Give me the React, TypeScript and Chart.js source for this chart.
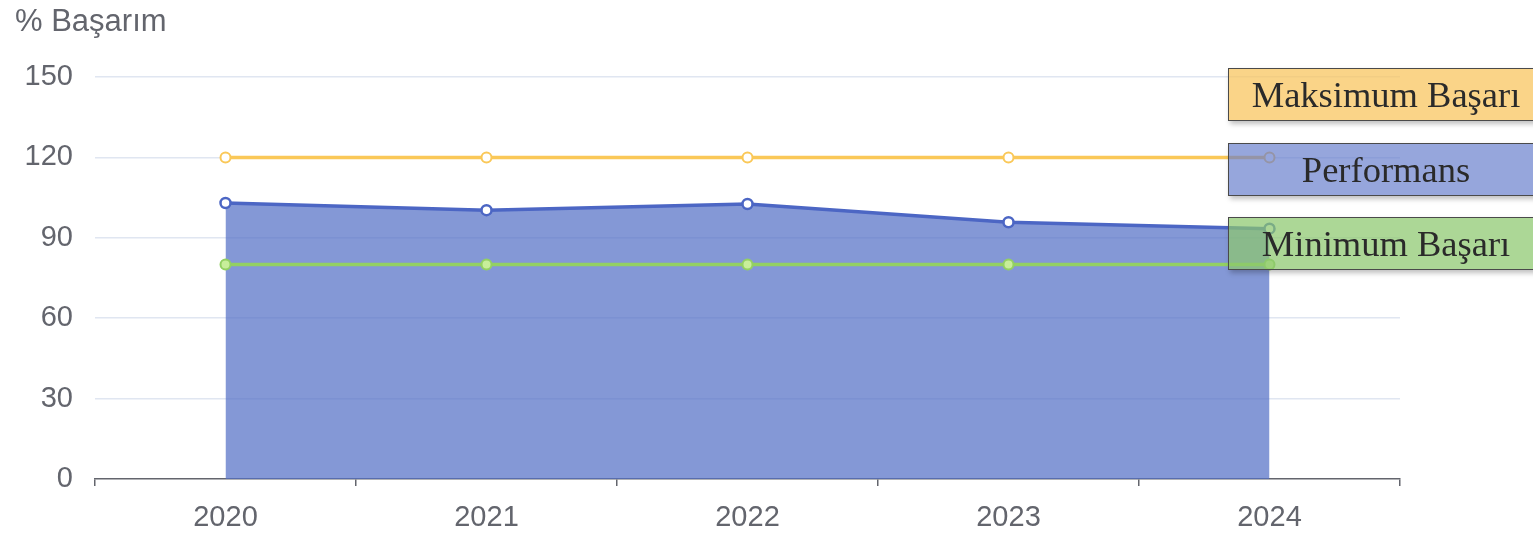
import React, { useEffect, useRef } from "react";
import { Chart, registerables } from "chart.js";

Chart.register(...registerables);

const years = ["2020", "2021", "2022", "2023", "2024"];
const maxValues = [120, 120, 120, 120, 120];
const perfValues = [103, 100.3, 102.6, 95.8, 93.4];
const minValues = [80, 80, 80, 80, 80];
const yMin = 0;
const yMax = 150;
const yStep = 30;
const axisTitle = "% Başarım";
const legendItems = [
  { label: "Maksimum Başarı", bg: "rgba(248, 196, 90, 0.72)" },
  { label: "Performans", bg: "rgba(100, 124, 204, 0.68)" },
  { label: "Minimum Başarı", bg: "rgba(140, 200, 110, 0.72)" },
];

const GREY = "#63656d";

export default function App() {
  const ref = useRef<HTMLCanvasElement | null>(null);

  useEffect(() => {
    if (!ref.current) return;
    const chart = new Chart(ref.current, {
      type: "line",
      data: {
        labels: years,
        datasets: [
          {
            label: "Maksimum Başarı",
            data: maxValues,
            order: 1,
            borderColor: "#fac858",
            borderWidth: 3.5,
            pointRadius: 5,
            pointBorderWidth: 2,
            pointBackgroundColor: "#ffffff",
            pointBorderColor: "#fac858",
            fill: false,
            tension: 0,
          },
          {
            label: "Performans",
            data: perfValues,
            order: 2,
            borderColor: "#4c66c4",
            backgroundColor: "rgba(84, 112, 198, 0.72)",
            borderWidth: 3.5,
            pointRadius: 5,
            pointBorderWidth: 2.5,
            pointBackgroundColor: "#ffffff",
            pointBorderColor: "#4c66c4",
            fill: "origin",
            tension: 0,
          },
          {
            label: "Minimum Başarı",
            data: minValues,
            order: 0,
            borderColor: "#93d062",
            borderWidth: 3.5,
            pointRadius: 5,
            pointBorderWidth: 2,
            pointBackgroundColor: "#c8ee9a",
            pointBorderColor: "#93d062",
            fill: false,
            tension: 0,
          },
        ],
      },
      options: {
        responsive: false,
        animation: false,
        layout: { padding: { left: 15, right: 133, top: 77, bottom: 0 } },
        plugins: {
          legend: { display: false },
          tooltip: { enabled: false },
          title: { display: false },
        },
        scales: {
          x: {
            type: "category",
            offset: true,
            grid: {
              offset: true,
              drawOnChartArea: false,
              drawTicks: true,
              tickLength: 7,
              color: GREY,
              lineWidth: 1.5,
            },
            border: { display: true, color: GREY, width: 1.5 },
            ticks: {
              color: GREY,
              padding: 15,
              font: { family: "Arial, 'Liberation Sans', sans-serif", size: 29 },
              maxRotation: 0,
            },
            afterFit: (scale: any) => {
              scale.height = 57;
            },
          },
          y: {
            min: yMin,
            max: yMax,
            ticks: {
              stepSize: yStep,
              color: GREY,
              padding: 22,
              font: { family: "Arial, 'Liberation Sans', sans-serif", size: 29 },
            },
            grid: {
              drawTicks: false,
              color: (ctx: any) => (ctx.tick && ctx.tick.value === 0 ? "rgba(0,0,0,0)" : "#e0e6f1"),
              lineWidth: 1.5,
            },
            border: { display: false },
            afterFit: (scale: any) => {
              scale.width = 80;
            },
          },
        },
      },
    });
    return () => chart.destroy();
  }, []);

  return (
    <div
      style={{
        position: "fixed",
        left: 0,
        top: 0,
        width: 1533,
        height: 536,
        overflow: "hidden",
        background: "#ffffff",
      }}
    >
      <canvas ref={ref} width={1533} height={536} style={{ position: "absolute", left: 0, top: 0 }} />
      <div
        style={{
          position: "absolute",
          left: 15,
          top: 3,
          font: "31px Arial, 'Liberation Sans', sans-serif",
          color: GREY,
        }}
      >
        {axisTitle}
      </div>
      {legendItems.map((it, i) => (
        <div
          key={it.label}
          style={{
            position: "absolute",
            left: 1228,
            top: 68 + i * 74.5,
            width: 316,
            height: 53,
            boxSizing: "border-box",
            border: "1.5px solid #4a4a4a",
            background: it.bg,
            boxShadow: "2px 3px 5px rgba(0,0,0,0.25)",
            display: "flex",
            alignItems: "center",
            justifyContent: "center",
            font: "36.5px 'Liberation Serif', 'Times New Roman', serif",
            color: "#2a2a2a",
            whiteSpace: "nowrap",
          }}
        >
          {it.label}
        </div>
      ))}
    </div>
  );
}
